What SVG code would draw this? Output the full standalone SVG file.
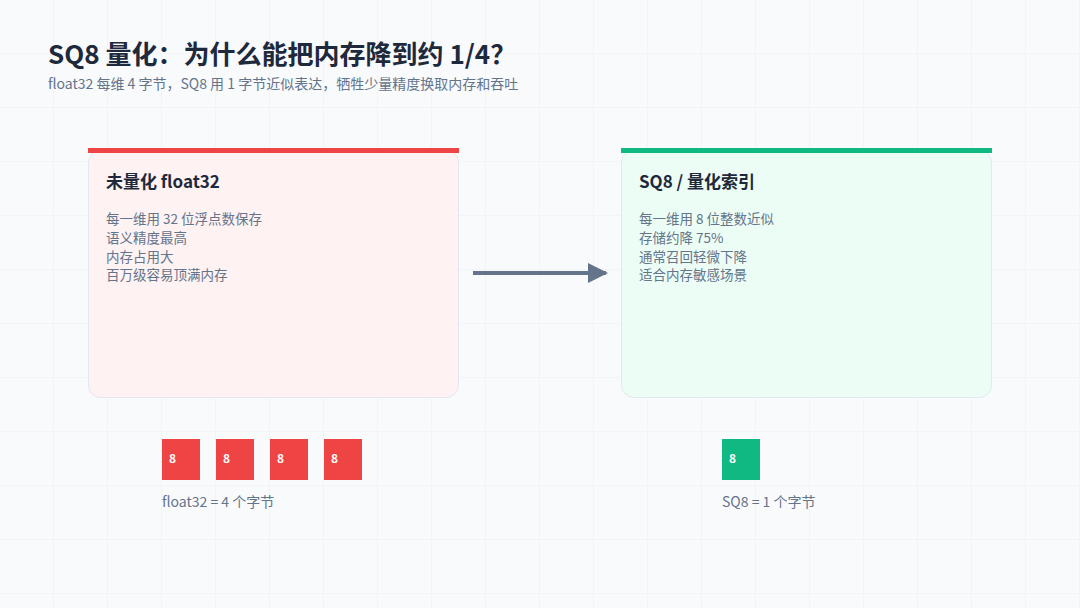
<svg xmlns="http://www.w3.org/2000/svg" width="1080" height="608" viewBox="0 0 1080 608">
<defs>
<pattern id="grid" width="54" height="54" patternUnits="userSpaceOnUse"><path d="M54 0V54M0 54H54" fill="none" stroke="#eceff3" stroke-width="1"/></pattern>
<marker id="ah" viewBox="0 0 10 10" refX="9" refY="5" markerWidth="5" markerHeight="5" orient="auto"><path d="M0 0L10 5L0 10Z" fill="#64748b"/></marker>
<style>
text{font-family:"Noto Sans CJK SC","Noto Sans",sans-serif}
.t{font-size:17px;font-weight:700;fill:#1e293b}
.b{font-size:13.5px;fill:#64748b}
.cap{font-size:14px;fill:#64748b}
.sq{font-size:12px;font-weight:700;fill:#fff}
</style>
</defs>
<rect width="1080" height="608" fill="#f8fafc"/>
<rect width="1080" height="608" fill="url(#grid)"/>
<text x="48" y="64" font-size="26" font-weight="700" fill="#1e293b">SQ8 量化：为什么能把内存降到约 1/4？</text>
<text x="48" y="89" font-size="14" fill="#64748b">float32 每维 4 字节，SQ8 用 1 字节近似表达，牺牲少量精度换取内存和吞吐</text>
<g id="connectors"><line x1="473" y1="273" x2="606" y2="273" stroke="#64748b" stroke-width="4" marker-end="url(#ah)"/></g>
<g id="float32">
<rect x="88.5" y="150.5" width="370" height="247" rx="12" fill="#fef2f2" stroke="#e2e8f0"/>
<rect x="88" y="148" width="371" height="5" fill="#ef4444"/>
<text class="t" x="106" y="188">未量化 float32</text>
<text class="b" x="106" y="224">每一维用 32 位浮点数保存</text>
<text class="b" x="106" y="243">语义精度最高</text>
<text class="b" x="106" y="262">内存占用大</text>
<text class="b" x="106" y="280">百万级容易顶满内存</text>
</g>
<g id="sq8">
<rect x="621.5" y="150.5" width="370" height="247" rx="12" fill="#ecfdf5" stroke="#e2e8f0"/>
<rect x="621" y="148" width="371" height="5" fill="#10b981"/>
<text class="t" x="639" y="188">SQ8 / 量化索引</text>
<text class="b" x="639" y="224">每一维用 8 位整数近似</text>
<text class="b" x="639" y="243">存储约降 75%</text>
<text class="b" x="639" y="262">通常召回轻微下降</text>
<text class="b" x="639" y="280">适合内存敏感场景</text>
</g>
<g id="bytes32">
<rect x="162" y="439" width="38" height="41" fill="#ef4444"/><text class="sq" x="169" y="463">8</text>
<rect x="216" y="439" width="38" height="41" fill="#ef4444"/><text class="sq" x="223" y="463">8</text>
<rect x="270" y="439" width="38" height="41" fill="#ef4444"/><text class="sq" x="277" y="463">8</text>
<rect x="324" y="439" width="38" height="41" fill="#ef4444"/><text class="sq" x="331" y="463">8</text>
<text class="cap" x="162" y="507">float32 = 4 个字节</text>
</g>
<g id="bytes8">
<rect x="722" y="439" width="38" height="41" fill="#10b981"/><text class="sq" x="729" y="463">8</text>
<text class="cap" x="722" y="507">SQ8 = 1 个字节</text>
</g>
</svg>
